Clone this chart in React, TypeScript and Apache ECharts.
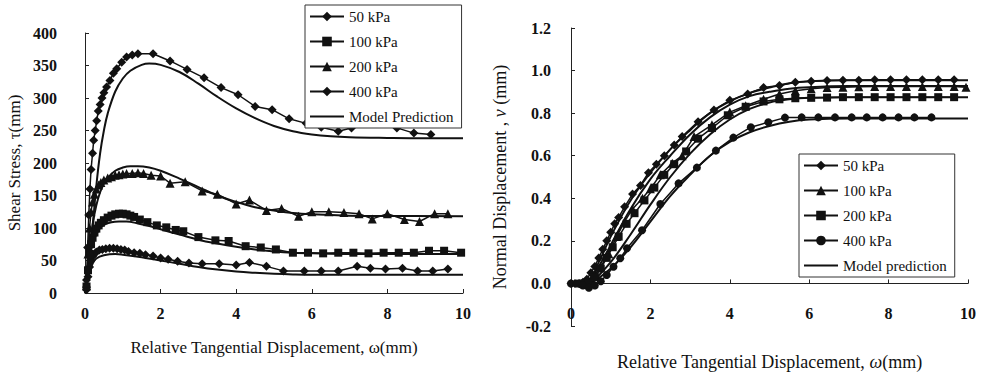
import React, { useEffect, useRef } from "react";
import * as echarts from "echarts";

// ---------- Left chart: shear stress (kPa) vs relative tangential displacement (mm)
const leftExp50: number[][] = [[0.04,5],[0.08,25],[0.12,40],[0.16,50],[0.2,56],[0.25,60],[0.3,63],[0.38,66],[0.46,67],[0.55,68],[0.65,69],[0.75,69],[0.85,68],[0.95,67],[1.05,66],[1.15,64],[1.3,62],[1.45,61],[1.6,59],[1.8,57],[2.0,54],[2.2,52],[2.45,49],[2.75,46],[3.1,45],[3.55,45],[4.0,43],[4.35,47],[4.8,41],[5.25,34],[5.8,34],[6.25,34],[6.7,34],[7.2,41],[7.55,38],[7.95,37],[8.4,38],[8.8,34],[9.2,34],[9.6,37]];
const leftExp100: number[][] = [[0.04,10],[0.08,35],[0.12,60],[0.16,75],[0.2,85],[0.25,93],[0.3,99],[0.36,104],[0.42,108],[0.5,112],[0.6,116],[0.7,119],[0.8,121],[0.9,122],[1.0,122],[1.1,121],[1.2,119],[1.3,117],[1.45,113],[1.65,109],[1.9,104],[2.15,101],[2.4,97],[2.6,95],[3.0,86],[3.45,81],[3.8,80],[4.25,72],[4.65,70],[5.05,67],[5.5,62],[5.9,62],[6.3,61],[6.7,62],[7.1,62],[7.5,61],[7.9,62],[8.3,62],[8.7,62],[9.1,65],[9.5,65],[9.95,62]];
const leftExp200: number[][] = [[0.04,15],[0.08,60],[0.12,100],[0.16,125],[0.2,140],[0.25,152],[0.3,160],[0.36,166],[0.42,170],[0.5,174],[0.6,177],[0.7,179],[0.8,181],[0.9,182],[1.0,183],[1.1,184],[1.25,184],[1.4,185],[1.55,184],[1.75,181],[2.0,180],[2.25,169],[2.65,171],[3.1,157],[3.5,152],[4.0,137],[4.35,143],[4.8,127],[5.2,130],[5.65,118],[6.0,125],[6.45,125],[6.85,124],[7.25,122],[7.6,114],[8.0,122],[8.45,113],[8.85,110],[9.25,122],[9.6,122]];
const leftExp400: number[][] = [[0.04,20],[0.07,70],[0.1,120],[0.13,160],[0.16,190],[0.2,215],[0.23,235],[0.27,250],[0.31,265],[0.35,280],[0.4,290],[0.45,300],[0.5,308],[0.57,317],[0.66,327],[0.75,338],[0.84,345],[0.97,355],[1.1,363],[1.25,366],[1.4,368],[1.8,368],[2.25,357],[2.7,344],[3.15,331],[3.6,316],[4.05,305],[4.5,287],[4.95,282],[5.4,268],[5.85,261],[6.25,255],[6.7,249],[7.05,254],[7.45,265],[7.85,261],[8.25,254],[8.7,246],[9.15,244]];

const leftModel50: number[][] = [[0,0],[0.1,30],[0.2,45],[0.3,53],[0.5,58],[0.8,60],[1.0,59],[1.5,55],[2.0,50],[2.5,45],[3.0,40],[3.5,36],[4.0,33],[4.5,31],[5.0,29.5],[5.5,28.5],[6.0,28],[8.0,28],[10,28]];
const leftModel100: number[][] = [[0,0],[0.1,45],[0.2,75],[0.3,90],[0.4,100],[0.5,105],[0.7,109],[0.9,110],[1.1,110],[1.4,107],[1.7,103],[2.0,98],[2.5,90],[3.0,82],[3.5,76],[4.0,71],[4.5,67],[5.0,64],[5.5,62],[6.0,61],[7.0,60],[10,60]];
const leftModel200: number[][] = [[0,0],[0.1,55],[0.2,105],[0.3,135],[0.4,155],[0.5,168],[0.6,177],[0.8,188],[1.0,193],[1.2,195],[1.4,195],[1.7,193],[2.0,188],[2.5,176],[3.0,163],[3.5,150],[4.0,140],[4.5,132],[5.0,127],[5.5,123],[6.0,121],[7.0,119],[8.0,118.5],[10,118]];
const leftModel400: number[][] = [[0,0],[0.1,35],[0.2,100],[0.3,165],[0.4,215],[0.5,250],[0.6,276],[0.8,310],[1.0,330],[1.2,342],[1.5,351],[1.7,353],[2.0,351],[2.5,340],[3.0,322],[3.5,302],[4.0,284],[4.5,269],[5.0,257],[5.5,249],[6.0,244],[6.5,241],[7.0,239.5],[8.0,238.5],[9.0,238],[10,238]];

// ---------- Right chart: normal displacement (mm) vs relative tangential displacement (mm)
const rightExp50: number[][] = [[0,0],[0.1,0],[0.2,0],[0.3,0.005],[0.4,0.02],[0.5,0.05],[0.6,0.08],[0.7,0.12],[0.8,0.16],[0.9,0.2],[1.0,0.24],[1.1,0.28],[1.2,0.31],[1.35,0.36],[1.55,0.42],[1.75,0.46],[1.95,0.52],[2.15,0.56],[2.35,0.6],[2.6,0.65],[2.8,0.69],[3.2,0.76],[3.6,0.815],[4.0,0.86],[4.45,0.89],[4.85,0.92],[5.25,0.93],[5.65,0.945],[6.05,0.95],[6.45,0.953],[6.85,0.955],[7.25,0.955],[7.65,0.957],[8.05,0.957],[8.45,0.957],[8.85,0.957],[9.25,0.957],[9.65,0.957]];
const rightExp100: number[][] = [[0.3,0],[0.4,-0.005],[0.5,0.015],[0.6,0.04],[0.75,0.08],[0.95,0.14],[1.15,0.22],[1.35,0.29],[1.55,0.35],[1.8,0.4],[2.0,0.445],[2.25,0.51],[2.55,0.565],[2.8,0.6],[3.1,0.69],[3.55,0.745],[4.0,0.805],[4.4,0.835],[4.85,0.865],[5.25,0.89],[5.65,0.905],[6.05,0.915],[6.45,0.92],[6.85,0.922],[7.25,0.924],[7.65,0.925],[8.05,0.925],[8.45,0.925],[8.85,0.925],[9.25,0.925],[9.65,0.925],[9.95,0.922]];
const rightExp200: number[][] = [[0.3,0],[0.45,0.005],[0.6,0.03],[0.75,0.07],[0.9,0.12],[1.05,0.17],[1.2,0.22],[1.4,0.28],[1.6,0.33],[1.85,0.39],[2.1,0.45],[2.35,0.51],[2.6,0.56],[2.9,0.62],[3.2,0.68],[3.55,0.73],[3.95,0.79],[4.4,0.83],[4.85,0.855],[5.25,0.865],[5.65,0.87],[6.05,0.872],[6.45,0.873],[6.85,0.875],[7.25,0.875],[7.65,0.875],[8.05,0.875],[8.45,0.875],[8.85,0.875],[9.25,0.875],[9.65,0.875]];
const rightExp400: number[][] = [[0,0],[0.15,0],[0.3,-0.01],[0.45,-0.02],[0.6,-0.01],[0.75,0.01],[0.9,0.04],[1.07,0.078],[1.24,0.118],[1.41,0.165],[1.79,0.25],[2.25,0.373],[2.71,0.47],[3.17,0.544],[3.65,0.624],[4.09,0.685],[4.53,0.734],[4.97,0.757],[5.39,0.779],[5.81,0.78],[6.23,0.78],[6.65,0.78],[7.07,0.78],[7.45,0.78],[7.85,0.78],[8.25,0.78],[8.65,0.78],[9.08,0.78]];

const rightModel50: number[][] = [[0,0],[0.4,0],[0.7,0.1],[1.0,0.22],[1.5,0.39],[2.0,0.52],[2.5,0.63],[3.0,0.72],[3.5,0.8],[4.0,0.855],[4.5,0.895],[5.0,0.92],[5.5,0.94],[6.0,0.95],[7.0,0.955],[10,0.955]];
const rightModel100: number[][] = [[0.4,0],[0.7,0.08],[1.0,0.18],[1.5,0.35],[2.0,0.49],[2.5,0.6],[3.0,0.7],[3.5,0.78],[4.0,0.84],[4.5,0.88],[5.0,0.9],[5.5,0.915],[6.0,0.922],[7.0,0.927],[10,0.928]];
const rightModel200: number[][] = [[0.5,0],[1.0,0.1],[1.5,0.23],[2.0,0.37],[2.5,0.5],[3.0,0.61],[3.5,0.7],[4.0,0.77],[4.5,0.82],[5.0,0.85],[5.5,0.865],[6.0,0.872],[7.0,0.875],[10,0.875]];
const rightModel400: number[][] = [[0.5,0],[1.0,0.07],[1.5,0.17],[2.0,0.29],[2.5,0.41],[3.0,0.51],[3.5,0.6],[4.0,0.665],[4.5,0.71],[5.0,0.74],[5.5,0.76],[6.0,0.77],[7.0,0.775],[10,0.775]];

const leftLegend = ["50 kPa", "100 kPa", "200 kPa", "400 kPa", "Model Prediction"];
const rightLegend = ["R 50 kPa", "R 100 kPa", "R 200 kPa", "R 400 kPa", "Model prediction"];

const FONT = "'Liberation Serif', 'Times New Roman', serif";
const INK = "#111";

function expSeries(name: string, data: number[][], symbol: string, size: number, idx: number) {
  return {
    name, type: "line", data, xAxisIndex: idx, yAxisIndex: idx,
    symbol, symbolSize: size, showSymbol: true,
    lineStyle: { color: INK, width: 1.5 },
    itemStyle: { color: INK, borderWidth: 0 },
  };
}
function modelSeries(name: string, data: number[][], idx: number) {
  return {
    name, type: "line", data, xAxisIndex: idx, yAxisIndex: idx,
    symbol: "none", smooth: 0.4,
    lineStyle: { color: INK, width: 2 },
    itemStyle: { color: INK },
  };
}

function legendData(names: string[]) {
  return names.map((n) => (n.startsWith("Model") ? { name: n, itemStyle: { opacity: 0 } } : { name: n }));
}

export default function App() {
  const ref = useRef<HTMLDivElement>(null);
  useEffect(() => {
    if (!ref.current) return;
    const chart = echarts.init(ref.current, undefined, { renderer: "svg" });
    const tickLabel = { fontFamily: FONT, fontSize: 16, fontWeight: "bold", color: INK };
    const axisLine = { show: true, lineStyle: { color: "#222", width: 1 } };
    const legendCommon = {
      orient: "vertical", itemWidth: 34, itemHeight: 12, itemGap: 10,
      borderColor: "#333", borderWidth: 1, padding: [4, 8, 4, 4],
      textStyle: { fontFamily: FONT, fontSize: 15, color: INK },
      formatter: (n: string) => n.replace(/^R /, ""),
      backgroundColor: "#fff",
    };
    chart.setOption({
      animation: false,
      backgroundColor: "#fff",
      grid: [
        { left: 85, top: 33, width: 378, height: 260, outerBoundsMode: "none", containLabel: false },
        { left: 571, top: 28, width: 397, height: 298, outerBoundsMode: "none", containLabel: false },
      ],
      legend: [
        { ...legendCommon, data: legendData(leftLegend), left: 305, top: 5 },
        { ...legendCommon, data: legendData(rightLegend), left: 799, top: 154 },
      ],
      xAxis: [
        {
          gridIndex: 0, type: "value", min: 0, max: 10, interval: 2,
          axisLine, axisTick: { inside: true, length: 4, lineStyle: { color: "#222" } },
          splitLine: { show: false },
          axisLabel: { ...tickLabel, margin: 12 },
          name: "Relative Tangential Displacement, ω(mm)", nameLocation: "middle", nameGap: 46,
          nameTextStyle: { fontFamily: FONT, fontSize: 17, color: INK },
        },
        {
          gridIndex: 1, type: "value", min: 0, max: 10, interval: 2,
          axisLine: { ...axisLine, onZero: true }, axisTick: { inside: true, length: 4, lineStyle: { color: "#222" } },
          splitLine: { show: false },
          axisLabel: { ...tickLabel, margin: -21 },
          name: "Relative Tangential Displacement, {i|ω}(mm)", nameLocation: "middle", nameGap: 27,
          nameTextStyle: { fontFamily: FONT, fontSize: 18, color: INK, rich: { i: { fontFamily: FONT, fontSize: 18, fontStyle: "italic", color: INK } } },
        },
      ],
      yAxis: [
        {
          gridIndex: 0, type: "value", min: 0, max: 400, interval: 50,
          axisLine, axisTick: { show: true, inside: true, length: 4, lineStyle: { color: "#222" } },
          splitLine: { show: false },
          axisLabel: { ...tickLabel, margin: 28 },
          name: "Shear Stress, τ(mm)", nameLocation: "middle", nameGap: 62, nameRotate: 90,
          nameTextStyle: { fontFamily: FONT, fontSize: 17, color: INK },
        },
        {
          gridIndex: 1, type: "value", min: -0.2, max: 1.2, interval: 0.2,
          axisLine, axisTick: { show: true, inside: true, length: 4, lineStyle: { color: "#222" } },
          splitLine: { show: false },
          axisLabel: { ...tickLabel, margin: 20, formatter: (v: number) => v.toFixed(1) },
          name: "Normal Displacement , {i|v} (mm)", nameLocation: "middle", nameGap: 62, nameRotate: 90,
          nameTextStyle: { fontFamily: FONT, fontSize: 18, color: INK, rich: { i: { fontFamily: FONT, fontSize: 18, fontStyle: "italic", color: INK } } },
        },
      ],
      series: [
        modelSeries("Model Prediction", leftModel400, 0),
        modelSeries("m200L", leftModel200, 0),
        modelSeries("m100L", leftModel100, 0),
        modelSeries("m50L", leftModel50, 0),
        expSeries("50 kPa", leftExp50, "diamond", 9, 0),
        expSeries("100 kPa", leftExp100, "rect", 8, 0),
        expSeries("200 kPa", leftExp200, "triangle", 9, 0),
        expSeries("400 kPa", leftExp400, "diamond", 9, 0),
        modelSeries("Model prediction", rightModel50, 1),
        modelSeries("m100R", rightModel100, 1),
        modelSeries("m200R", rightModel200, 1),
        modelSeries("m400R", rightModel400, 1),
        expSeries("R 50 kPa", rightExp50, "diamond", 9, 1),
        expSeries("R 100 kPa", rightExp100, "triangle", 9, 1),
        expSeries("R 200 kPa", rightExp200, "rect", 8, 1),
        expSeries("R 400 kPa", rightExp400, "circle", 8, 1),
      ],
    });
    return () => chart.dispose();
  }, []);
  return (
    <div
      ref={ref}
      style={{ position: "absolute", left: 0, top: 0, width: 989, height: 375, background: "#fff" }}
    />
  );
}
